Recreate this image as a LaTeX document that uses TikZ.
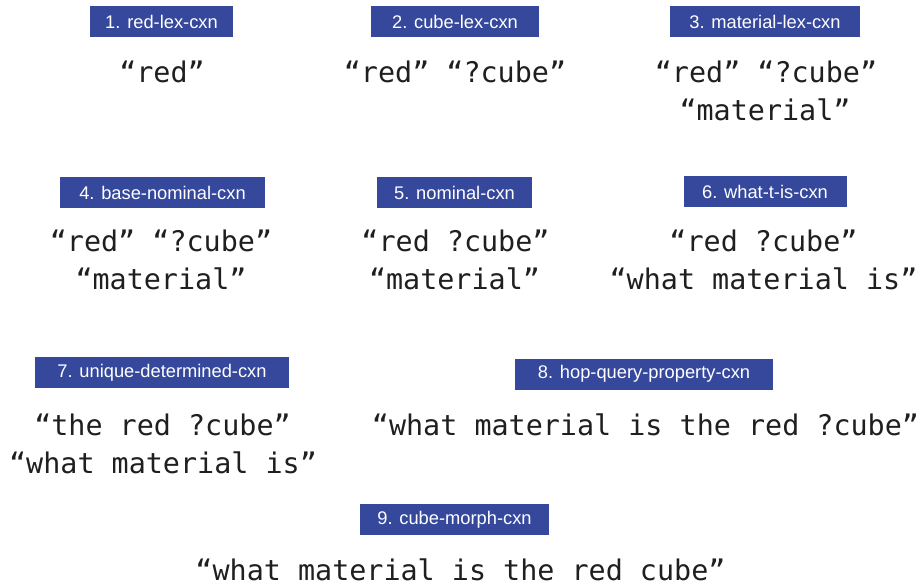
\documentclass[tikz,border=0pt]{standalone}
\usepackage{fontspec}
\setmainfont{Liberation Sans}
\newfontfamily\codefont{DejaVu Sans Mono}
\definecolor{cxnblue}{RGB}{53,72,156}
\tikzset{
  cxnlabel/.style={fill=cxnblue, text=white, font=\fontsize{18.3}{20}\selectfont,
    minimum height=31pt, inner xsep=10pt, inner ysep=0pt, anchor=center},
  utter/.style={font=\codefont\fontsize{28.4}{30}\selectfont, text=black!88,
    anchor=base, inner sep=0pt}
}
\begin{document}
\begin{tikzpicture}[x=1pt,y=-1pt]
\useasboundingbox (0,0) rectangle (921,585);

% row 1
\node[cxnlabel, minimum width=143pt] (l1) at (161.5,21.5) {1. red-lex-cxn};
\node[utter] (u1a) at (162,83) {“red”};

\node[cxnlabel, minimum width=168pt] (l2) at (455,21.5) {2. cube-lex-cxn};
\node[utter] (u2a) at (455,83) {“red” “?cube”};

\node[cxnlabel, minimum width=190pt] (l3) at (765,21.5) {3. material-lex-cxn};
\node[utter] (u3a) at (766,83) {“red” “?cube”};
\node[utter] (u3b) at (765,121) {“material”};

% row 2
\node[cxnlabel, minimum width=205pt] (l4) at (162.5,192.5) {4. base-nominal-cxn};
\node[utter] (u4a) at (161,252) {“red” “?cube”};
\node[utter] (u4b) at (161,290) {“material”};

\node[cxnlabel, minimum width=155pt] (l5) at (454.5,192.5) {5. nominal-cxn};
\node[utter] (u5a) at (455.5,252) {“red ?cube”};
\node[utter] (u5b) at (454.5,290) {“material”};

\node[cxnlabel, minimum width=163pt] (l6) at (765,192) {6. what-t-is-cxn};
\node[utter] (u6a) at (763.5,252) {“red ?cube”};
\node[utter] (u6b) at (763.5,290) {“what material is”};

% row 3
\node[cxnlabel, minimum width=254pt] (l7) at (162,372.5) {7. unique-determined-cxn};
\node[utter] (u7a) at (162.5,435) {“the red ?cube”};
\node[utter] (u7b) at (163,473) {“what material is”};

\node[cxnlabel, minimum width=258pt] (l8) at (644,374) {8. hop-query-property-cxn};
\node[utter] (u8a) at (645.5,435) {“what material is the red ?cube”};

% row 4
\node[cxnlabel, minimum width=189pt] (l9) at (454.5,519.5) {9. cube-morph-cxn};
\node[utter] (u9a) at (460.5,580) {“what material is the red cube”};
\end{tikzpicture}
\end{document}
